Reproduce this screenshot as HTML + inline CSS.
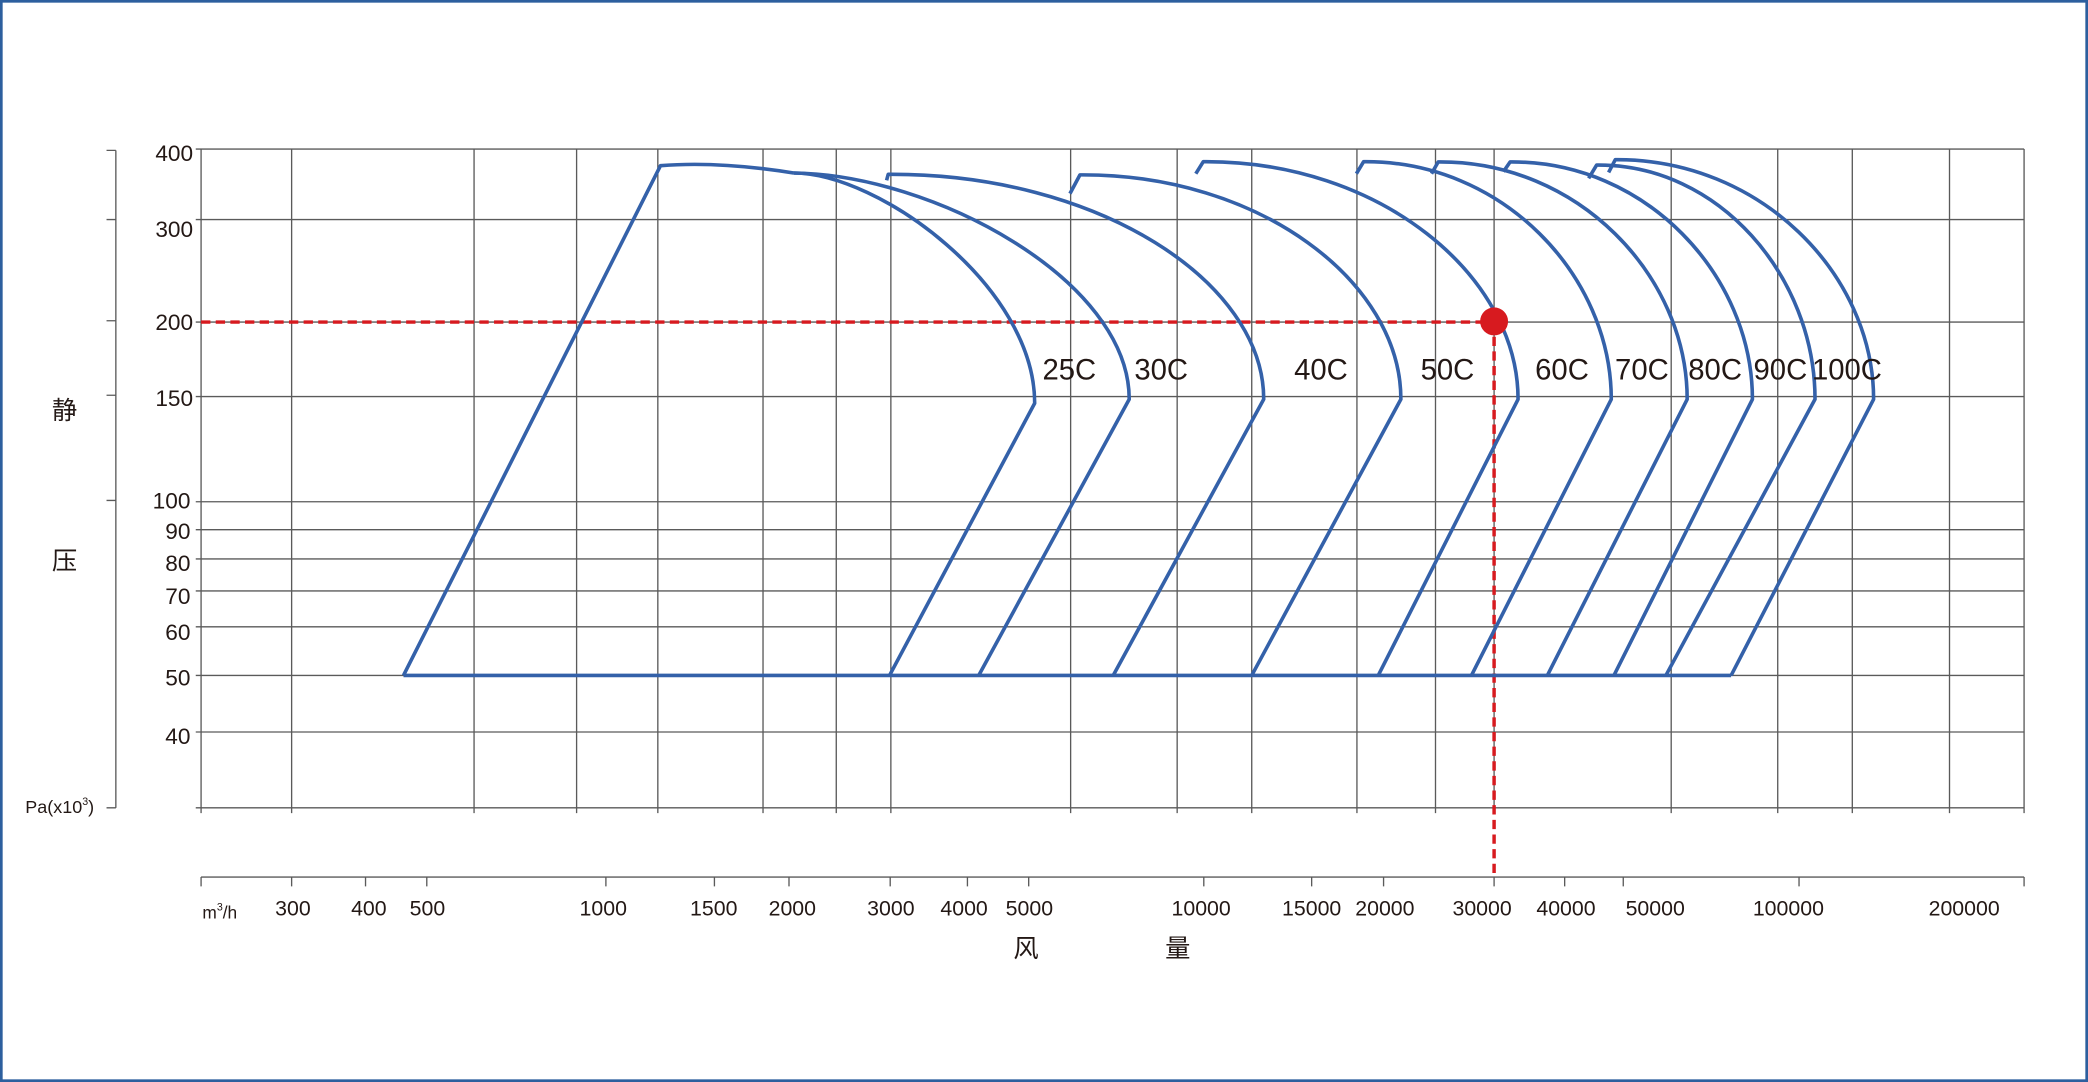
<!DOCTYPE html>
<html><head><meta charset="utf-8"><style>
html,body{margin:0;padding:0;background:#fff;}
svg{display:block;}
text{font-family:"Liberation Sans","Noto Sans CJK SC",sans-serif;fill:#231815;}
</style></head><body>
<svg width="2088" height="1082" viewBox="0 0 1568 813" preserveAspectRatio="none" xmlns="http://www.w3.org/2000/svg">
<rect x="1" y="1" width="1566" height="811" fill="#fff" stroke="#2d5f9e" stroke-width="2"/>
<g stroke="#5a5a5a" stroke-width="1" fill="none">
<path d="M147 112H1520M147 165H1520M147 242H1520M147 298H1520M147 377H1520M147 398H1520M147 420H1520M147 444H1520M147 471H1520M147 507.5H1520M147 550H1520M147 607H1520"/>
<path d="M151 112V611M219 112V611M356 112V611M433 112V611M494 112V611M573 112V611M628 112V611M669 112V611M804 112V611M884 112V611M940 112V611M1019 112V611M1078 112V611M1122 112V611M1255 112V611M1335 112V611M1391 112V611M1464 112V611M1520 112V611"/>
<path d="M87 113V607M80 113H87M80 165H87M80 241H87M80 297H87M80 376H87M80 607H87"/>
<path d="M151 659H1520M151 659V666M219 659V666M274.5 659V666M320.5 659V666M455 659V666M536.5 659V666M592.5 659V666M668.5 659V666M726.5 659V666M772.5 659V666M904 659V666M985 659V666M1039 659V666M1122 659V666M1175 659V666M1219 659V666M1351 659V666M1520 659V666"/>
</g>
<g font-size="17" text-anchor="end">
<text x="145" y="121">400</text><text x="145" y="178">300</text><text x="145" y="248">200</text><text x="145" y="305">150</text><text x="143" y="382">100</text><text x="143" y="405">90</text><text x="143" y="429">80</text><text x="143" y="454">70</text><text x="143" y="481">60</text><text x="143" y="515">50</text><text x="143" y="559">40</text>
</g>
<text x="19" y="611" font-size="13.5">Pa(x10<tspan font-size="8" dy="-6">3</tspan><tspan dy="6">)</tspan></text>
<text x="39" y="315" font-size="19">静</text>
<text x="39" y="428" font-size="19">压</text>
<text x="761" y="719" font-size="19">风</text>
<text x="875" y="719" font-size="19">量</text>
<g font-size="16" text-anchor="middle">
<text x="220" y="688">300</text><text x="277" y="688">400</text><text x="321" y="688">500</text><text x="453" y="688">1000</text><text x="536" y="688">1500</text><text x="595" y="688">2000</text><text x="669" y="688">3000</text><text x="724" y="688">4000</text><text x="773" y="688">5000</text><text x="902" y="688">10000</text><text x="985" y="688">15000</text><text x="1040" y="688">20000</text><text x="1113" y="688">30000</text><text x="1176" y="688">40000</text><text x="1243" y="688">50000</text><text x="1343" y="688">100000</text><text x="1475" y="688">200000</text>
</g>
<text x="152" y="690" font-size="13">m<tspan font-size="8" dy="-6">3</tspan><tspan dy="6">/h</tspan></text>
<g fill="none" stroke="#d71a1f" stroke-width="2.6" stroke-dasharray="7,4">
<path d="M151 242H1122"/><path d="M1122 242V659"/>
</g>
<g fill="none" stroke="#3461a9" stroke-width="2.7" stroke-linejoin="round">
<path d="M303 507.5H1300"/>
<path d="M303 507.5L496 124.5Q540 121 596 130"/>
<path d="M596 130C660 130 777 215 777 303L668 507.5"/>
<path d="M596 130C700 131 848 210 848 300L735 507.5"/>
<path d="M665.8 135.5L667 131C824.9 130 949 212 949 300L836 507.5"/>
<path d="M803.5 145.5L811 131.4C946 130.4 1052 212 1052 300L940 507.5"/>
<path d="M898 130.5L903.6 121.5C1036 120.5 1140 207 1140 300L1035 507.5"/>
<path d="M1018.6 130.5L1024 121.5C1128.2 120.5 1210 207 1210 300L1105 507.5"/>
<path d="M1075 130.5L1080 121.7C1184.7 120.7 1267 207 1267 300L1162 507.5"/>
<path d="M1129 129L1134 121.7C1235.9 120.7 1316 207 1316 300L1212 507.5"/>
<path d="M1193 134L1199 124C1290.8 123 1363 208 1363 300L1251 507.5"/>
<path d="M1208 129.6L1213 120C1321.6 119 1407 206 1407 300L1300 507.5"/>
</g>
<circle cx="1122" cy="241.5" r="10.5" fill="#d71a1f"/>
<g font-size="22" text-anchor="middle">
<text x="803" y="285">25C</text><text x="872" y="285">30C</text><text x="992" y="285">40C</text><text x="1087" y="285">50C</text><text x="1173" y="285">60C</text><text x="1233" y="285">70C</text><text x="1288" y="285">80C</text><text x="1337" y="285">90C</text><text x="1387" y="285">100C</text>
</g>
</svg>
</body></html>
